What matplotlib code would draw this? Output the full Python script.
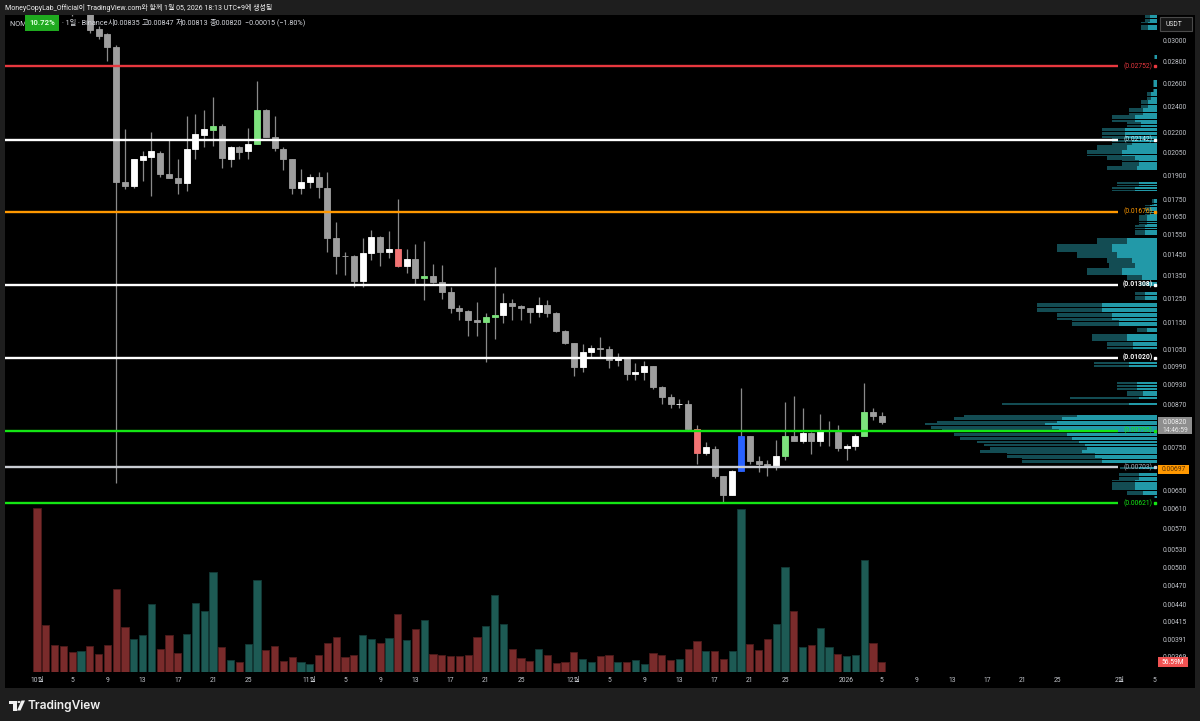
import numpy as np
import pandas as pd
import matplotlib
matplotlib.use('Agg')
import matplotlib.pyplot as plt
from matplotlib.patches import Rectangle, Polygon, Circle
from matplotlib.ticker import NullLocator

plt.rcParams['font.family'] = ['Roboto', 'Noto Sans CJK KR', 'DejaVu Sans']

# ---------------- data ----------------
start = pd.Timestamp('2025-10-01')
dates = pd.date_range(start, '2026-01-05', freq='D')

opens = [0.0520, 0.0440, 0.0412, 0.0392, 0.0375, 0.0340, 0.0352, 0.03125, 0.03069, 0.02942,
         0.01858, 0.0183, 0.0200, 0.0202, 0.0205, 0.01905, 0.0188, 0.0185, 0.0208, 0.02178,
         0.02216, 0.02246, 0.0201, 0.02093, 0.0206, 0.0211, 0.0237, 0.02166, 0.0208, 0.0201,
         0.0182,
         0.01854, 0.01885, 0.0182, 0.01535, 0.01444, 0.01444, 0.01325, 0.01456, 0.0154, 0.01464,
         0.01476, 0.01396, 0.01426, 0.0134, 0.01347, 0.01321, 0.01277, 0.0121, 0.01197, 0.0116,
         0.01151, 0.01173, 0.01178, 0.0123, 0.01217, 0.01207, 0.01191, 0.01221, 0.01187, 0.01118,
         0.01071, 0.00989, 0.01041, 0.01053, 0.01052, 0.01012, 0.01018, 0.00965, 0.00972, 0.00992,
         0.00924, 0.00893, 0.00871, 0.00872, 0.0080, 0.00737, 0.00747, 0.00681, 0.00639, 0.00694,
         0.00781, 0.00718, 0.0071, 0.00704, 0.0073, 0.00781, 0.00769, 0.0079, 0.00768, 0.00794,
         0.00793,
         0.00749, 0.00756, 0.00781, 0.00849, 0.00835]
highs = [0.0545, 0.0462, 0.0428, 0.0405, 0.0388, 0.0372, 0.0360, 0.0316, 0.0308, 0.0296,
         0.0222, 0.0201, 0.0206, 0.0220, 0.0206, 0.0214, 0.0201, 0.0232, 0.0234, 0.02372,
         0.02479, 0.02261, 0.0210, 0.0210, 0.02231, 0.02621, 0.0238, 0.02324, 0.0209, 0.0201,
         0.0194,
         0.01907, 0.0192, 0.0192, 0.01618, 0.01464, 0.01447, 0.01532, 0.01576, 0.01545, 0.01571,
         0.0175, 0.01477, 0.01503, 0.01518, 0.01404, 0.0140, 0.01299, 0.01221, 0.0120, 0.01234,
         0.01187, 0.01388, 0.01273, 0.01245, 0.01219, 0.0121, 0.01256, 0.01242, 0.0119, 0.0112,
         0.01074, 0.01069, 0.01065, 0.01094, 0.01063, 0.01036, 0.01022, 0.01001, 0.01009, 0.00993,
         0.00925, 0.00902, 0.00885, 0.00882, 0.00811, 0.00765, 0.00755, 0.00682, 0.00695, 0.00919,
         0.00782, 0.0073, 0.00719, 0.00771, 0.00876, 0.00896, 0.00859, 0.00791, 0.00841, 0.00823,
         0.00811,
         0.0076, 0.00787, 0.00935, 0.00858, 0.00847]
lows = [0.0430, 0.0405, 0.0385, 0.0368, 0.0327, 0.0333, 0.0308, 0.0302, 0.02803, 0.00666,
        0.0181, 0.0182, 0.0186, 0.0177, 0.0189, 0.0188, 0.0178, 0.0180, 0.0201, 0.02093,
        0.0210, 0.01949, 0.01955, 0.0201, 0.0201, 0.0211, 0.0216, 0.02063, 0.01933, 0.0178,
        0.0178,
        0.0182, 0.01757, 0.01464, 0.01355, 0.01353, 0.01299, 0.0130, 0.01423, 0.01396, 0.01434,
        0.0139, 0.01363, 0.01307, 0.01242, 0.01314, 0.01245, 0.01187, 0.0116, 0.01098, 0.01098,
        0.01006, 0.01086, 0.01147, 0.0116, 0.0116, 0.01147, 0.01173, 0.01171, 0.01113, 0.0107,
        0.00959, 0.00971, 0.0102, 0.01024, 0.00984, 0.00992, 0.00946, 0.00945, 0.00945, 0.00917,
        0.00871, 0.00859, 0.00859, 0.00798, 0.0071, 0.00732, 0.00677, 0.00621, 0.00638, 0.00693,
        0.00709, 0.00692, 0.00682, 0.00696, 0.0072, 0.00767, 0.00763, 0.00735, 0.00755, 0.00755,
        0.00742,
        0.0072, 0.00746, 0.0078, 0.00826, 0.00813]
closes = [0.0440, 0.0412, 0.0392, 0.0375, 0.0340, 0.0352, 0.03115, 0.03055, 0.02936, 0.01854,
          0.0183, 0.0201, 0.0203, 0.0206, 0.01905, 0.01883, 0.01852, 0.0208, 0.02183, 0.02223,
          0.02246, 0.02012, 0.02093, 0.02058, 0.0211, 0.02372, 0.02166, 0.02082, 0.0201, 0.01819,
          0.01854,
          0.01885, 0.01822, 0.01535, 0.01444, 0.01442, 0.01326, 0.01456, 0.01541, 0.01464, 0.01476,
          0.01396, 0.01426, 0.0134, 0.01347, 0.01321, 0.01277, 0.0121, 0.01197, 0.0116, 0.01151,
          0.01173, 0.01178, 0.0123, 0.01217, 0.01207, 0.01191, 0.01221, 0.01187, 0.01118, 0.01071,
          0.00989, 0.01041, 0.01053, 0.01052, 0.01012, 0.01018, 0.00965, 0.00973, 0.00992, 0.00924,
          0.00893, 0.00871, 0.00872, 0.0080, 0.00737, 0.00752, 0.00682, 0.00639, 0.00694, 0.00781,
          0.00718, 0.0071, 0.00704, 0.0073, 0.00781, 0.00769, 0.0079, 0.00768, 0.00795, 0.00796,
          0.00749,
          0.00756, 0.00781, 0.00849, 0.00835, 0.0082]
volumes_m = [928, 264, 155, 149, 111, 121, 149, 102, 155, 470, 256, 187, 207, 385, 130, 211,
             107, 215, 389, 347, 566, 140, 68, 58, 160, 521, 124, 149, 64, 87, 55,
             43, 98, 164, 200, 83, 96, 207, 189, 164, 192, 326, 181, 241, 294, 104, 98, 89,
             92, 98, 196, 262, 438, 270, 130, 79, 64, 132, 96, 49, 58,
             113, 75, 58, 92, 98, 58, 55, 70, 47, 106, 96, 70, 75, 130, 177, 121, 117, 75,
             117, 922, 160, 124, 187, 273, 594, 345, 140, 153, 251, 143, 102,
             89, 96, 632, 166, 56.59]

# highlighted (signal) candles
signal_days = ['2025-10-21', '2025-10-26', '2025-11-11', '2025-11-14', '2025-11-21',
               '2025-11-22', '2025-12-15', '2025-12-20', '2025-12-25', '2026-01-03']
signal_kind = ['buy', 'buy', 'sell', 'buy', 'buy', 'buy', 'sell', 'blue', 'buy', 'buy']

# horizontal levels
levels = [0.02752, 0.02142, 0.01676, 0.01308, 0.01020, 0.00795, 0.00703, 0.00621]
level_line_colors = ['#e8383f', '#ffffff', '#ff9800', '#ffffff', '#ffffff', '#14e614', '#c9ccd2', '#14e614']
level_text_colors = ['#e8383f', '#bfe9f0', '#ff9800', '#ffffff', '#ffffff', '#14e614', '#a9b2bd', '#14e614']

# volume profile (price bands, relative volume)
prof_hi = [0.0328, 0.0320, 0.0286, 0.02627, 0.02522, 0.02454, 0.02388, 0.02332, 0.02277, 0.02239,
           0.02156, 0.02105, 0.0207, 0.02029, 0.02003, 0.01962, 0.01856, 0.01825, 0.01757, 0.01716,
           0.01659, 0.01603, 0.01534, 0.01503, 0.01462, 0.01432, 0.01408, 0.01384, 0.01352, 0.0132,
           0.01276, 0.01229, 0.01192, 0.0116, 0.01135, 0.01112, 0.01079, 0.01008, 0.00939, 0.00913,
           0.00892, 0.00874, 0.00842, 0.00834, 0.00825, 0.00818, 0.00811, 0.00801, 0.00792, 0.00781,
           0.00771, 0.00762, 0.00755, 0.00746, 0.00737, 0.00725, 0.00705, 0.0069, 0.00672, 0.0065,
           0.00637]
prof_lo = [0.0320, 0.03115, 0.0282, 0.02522, 0.02454, 0.02388, 0.02332, 0.02277, 0.02239, 0.02156,
           0.02105, 0.0207, 0.02029, 0.02003, 0.01962, 0.01933, 0.01831, 0.0180, 0.01716, 0.01659,
           0.01603, 0.0155, 0.01503, 0.01462, 0.01432, 0.01408, 0.01384, 0.01352, 0.01329, 0.01302,
           0.01242, 0.01192, 0.0116, 0.01135, 0.01112, 0.01079, 0.0105, 0.00988, 0.00913, 0.00895,
           0.00886, 0.00868, 0.00834, 0.00825, 0.00818, 0.00811, 0.00801, 0.00792, 0.00781, 0.00771,
           0.00762, 0.00755, 0.00746, 0.00737, 0.00725, 0.00713, 0.00698, 0.00672, 0.0065, 0.00639,
           0.00632]
prof_total = [12, 16, 3, 4, 10, 16, 28, 45, 30, 55, 45, 60, 70, 50, 35, 50, 40, 45, 5, 12,
              18, 22, 60, 100, 80, 50, 48, 70, 30, 17, 22, 120, 100, 85, 20, 65, 50, 63, 40, 30,
              87, 155, 193, 203, 220, 232, 226, 215, 203, 197, 180, 173, 167, 177, 150, 135,
              37, 38, 45, 30, 3]
prof_up = [7, 9, 2, 3, 6, 9, 14, 22, 16, 32, 25, 30, 35, 22, 18, 20, 18, 22, 3, 7,
           10, 12, 30, 45, 40, 25, 22, 35, 15, 9, 12, 55, 45, 38, 10, 30, 24, 28, 20, 14,
           18, 28, 80, 95, 100, 112, 105, 98, 90, 85, 78, 72, 70, 75, 62, 55, 18, 18, 22, 14, 2]

ytick_vals = [0.03, 0.028, 0.026, 0.024, 0.022, 0.0205, 0.019, 0.0175, 0.0165, 0.0155, 0.0145,
              0.0135, 0.0125, 0.0115, 0.0105, 0.0099, 0.0093, 0.0087, 0.0075, 0.0065, 0.0061,
              0.0057, 0.0053, 0.0050, 0.0047, 0.0044, 0.00415, 0.00391, 0.00369]
xtick_dates = ['2025-10-01', '2025-10-05', '2025-10-09', '2025-10-13', '2025-10-17', '2025-10-21',
               '2025-10-25', '2025-11-01', '2025-11-05', '2025-11-09', '2025-11-13', '2025-11-17',
               '2025-11-21', '2025-11-25', '2025-12-01', '2025-12-05', '2025-12-09', '2025-12-13',
               '2025-12-17', '2025-12-21', '2025-12-25', '2026-01-01', '2026-01-05', '2026-01-09',
               '2026-01-13', '2026-01-17', '2026-01-21', '2026-01-25', '2026-02-01', '2026-02-05']
xtick_labels = ['10월', '5', '9', '13', '17', '21', '25', '11월', '5', '9', '13', '17', '21', '25',
                '12월', '5', '9', '13', '17', '21', '25', '2026', '5', '9', '13', '17', '21', '25',
                '2월', '5']

last_price = 0.00820
marker_price = 0.00697
last_volume = 56.59

# ---------------- figure ----------------
W, H = 1200, 721
fig = plt.figure(figsize=(W / 100, H / 100), dpi=100, facecolor='#1e1e1e')


def fx(px):
    return px / W


def fy(py):
    return 1 - py / H


def fig_rect(x0, y0, x1, y1, **kw):
    r = Rectangle((fx(x0), fy(y1)), fx(x1) - fx(x0), fy(y0) - fy(y1),
                  transform=fig.transFigure, **kw)
    fig.add_artist(r)
    return r


fig_rect(5, 15, 1195, 688, facecolor='black', edgecolor='none', zorder=-10)

AX_L, AX_R, AX_T, AX_B = 5, 1157, 15, 672
PX_DAY = 8.8
X0_PX = 37
pos = [fx(AX_L), fy(AX_B), (AX_R - AX_L) / W, (AX_B - AX_T) / H]
xlim = ((AX_L - X0_PX) / PX_DAY, (AX_R - X0_PX) / PX_DAY)
ylim = (0.003497, 0.032778)

x = np.array([(d - start).days for d in dates])
o = np.array(opens); h = np.array(highs); l = np.array(lows); c = np.array(closes)
up = c >= o

# volume
ax_vol = fig.add_axes(pos, facecolor='black')
vol_colors = np.where(up, '#1d5a54', '#7a2b2b')
vol_edges = np.where(up, '#123a36', '#4d1a1a')
ax_vol.bar(x, volumes_m, width=0.84, color=vol_colors, edgecolor=vol_edges, linewidth=0.6)
ax_vol.set_xlim(*xlim)
ax_vol.set_ylim(0, 3718)
ax_vol.axis('off')

# volume profile
PROF_L = 900
ax_prof = fig.add_axes([fx(PROF_L), fy(AX_B), (AX_R - PROF_L) / W, (AX_B - AX_T) / H],
                       facecolor='none')
ax_prof.set_yscale('log')
ax_prof.set_ylim(*ylim)
ax_prof.set_xlim(AX_R - PROF_L, 0)
rows_lo, rows_h, rows_tot, rows_up = [], [], [], []
for hi_, lo_, tot, upv in zip(prof_hi, prof_lo, prof_total, prof_up):
    e = lo_
    while e < hi_ - 1e-9:
        top = min(e + 0.0001, hi_)
        rows_lo.append(e)
        rows_h.append((top - e) * 0.8)
        rows_tot.append(tot)
        rows_up.append(upv)
        e = top
ax_prof.barh(rows_lo, rows_tot, height=rows_h, align='edge', color='#134c53', linewidth=0)
ax_prof.barh(rows_lo, rows_up, height=rows_h, align='edge', color='#2299a8', linewidth=0)
ax_prof.axis('off')

# main price axes
ax = fig.add_axes(pos, facecolor='none')
ax.set_yscale('log')
ax.set_xlim(*xlim)
ax.set_ylim(*ylim)

kind_colors = {'buy': '#7de37d', 'sell': '#f27474', 'blue': '#2962ff'}
body_colors = np.where(up, '#ffffff', '#9e9e9e').astype(object)
for d, k in zip(signal_days, signal_kind):
    idx = (pd.Timestamp(d) - start).days
    body_colors[idx] = kind_colors[k]

ax.vlines(x, l, h, colors='#8a8a8a', linewidth=0.9, zorder=2)
bottoms = np.minimum(o, c)
heights = np.abs(c - o)
ax.bar(x, heights, bottom=bottoms, width=0.68, color=list(body_colors),
       edgecolor=list(body_colors), linewidth=0.6, zorder=3)

# horizontal levels
LINE_END = (1118 - X0_PX) / PX_DAY
LABEL_X = (1153 - X0_PX) / PX_DAY
DOT_X = (1155.5 - X0_PX) / PX_DAY
ax.hlines(levels, xlim[0], LINE_END, colors=level_line_colors, linewidth=1.7, zorder=4)
for lv, tc, lc in zip(levels, level_text_colors, level_line_colors):
    ax.text(LABEL_X, lv, f'({lv:.5f})', ha='right', va='center', color=tc,
            fontsize=4.9, zorder=5, fontweight='bold' if tc == '#ffffff' else 'normal')
    ax.plot([DOT_X], [lv], marker='s', ms=1.5, color=lc, zorder=5, clip_on=False)

# axes ticks
for sp in ax.spines.values():
    sp.set_visible(False)
ax.yaxis.tick_right()
ax.set_yticks(ytick_vals)
ax.set_yticklabels([f'{v:.5f}' for v in ytick_vals])
ax.yaxis.set_minor_locator(NullLocator())
ax.tick_params(axis='y', length=0, pad=4.2, labelsize=4.9, labelcolor='#c3c6cc')
xt = [(pd.Timestamp(d) - start).days for d in xtick_dates]
ax.set_xticks(xt)
ax.set_xticklabels(xtick_labels)
ax.xaxis.set_minor_locator(NullLocator())
ax.tick_params(axis='x', length=0, pad=3.6, labelsize=4.9, labelcolor='#c3c6cc')

# right-axis label boxes
fig.canvas.draw()


def data_to_py(axis, val):
    return H - axis.transData.transform((0, val))[1]


py = data_to_py(ax, last_price)
fig_rect(1158, py - 4.5, 1192, py + 12.5, facecolor='#8e8e8e', edgecolor='none', zorder=6)
fig.text(fx(1175), fy(py + 0.3), f'{last_price:.5f}', ha='center', va='center', fontsize=4.9,
         color='#f2f2f2', zorder=7)
fig.text(fx(1175), fy(py + 8.3), '14:46:59', ha='center', va='center', fontsize=4.9,
         color='#e6e6e6', zorder=7)

py = data_to_py(ax, marker_price)
fig_rect(1158, py - 4.8, 1189, py + 4.8, facecolor='#ff9800', edgecolor='none', zorder=6)
fig.text(fx(1173.5), fy(py), f'{marker_price:.5f}', ha='center', va='center', fontsize=4.9,
         color='#5a3000', zorder=7)

py = data_to_py(ax_vol, last_volume)
fig_rect(1158, py - 4.6, 1188, py + 4.6, facecolor='#f05252', edgecolor='none', zorder=6)
fig.text(fx(1173), fy(py), f'{last_volume:.2f}M', ha='center', va='center', fontsize=4.9,
         color='#ffffff', zorder=7)

# USDT box
fig_rect(1159.5, 17, 1192, 31, facecolor='#161616', edgecolor='#4a4a4a', linewidth=0.8, zorder=6)
fig.text(fx(1166), fy(24), 'USDT', ha='left', va='center', fontsize=4.9, color='#e8e8e8', zorder=7)

# header
fig.text(fx(5), fy(8), 'MoneyCopyLab_Official이 TradingView.com와 함께 1월 05, 2026 18:13 UTC+9에 생성됨',
         ha='left', va='center', fontsize=5.0, color='#f0f0f0')
leg_color = '#d6d8de'
fig.text(fx(10), fy(23.5), 'NOM /', ha='left', va='center', fontsize=5.2, color=leg_color, zorder=5)
fig.text(fx(62), fy(23.5), '· 1일 · Binance', ha='left', va='center', fontsize=5.2,
         color=leg_color, zorder=5)
for px_, s in [(108, '시0.00835'), (142, '고0.00847'), (176, '저0.00813'), (210, '종0.00820'),
               (245, '−0.00015 (−1.80%)')]:
    fig.text(fx(px_), fy(23.5), s, ha='left', va='center', fontsize=5.2, color=leg_color, zorder=5)
fig_rect(25, 15, 59, 30.5, facecolor='#1faa1f', edgecolor='none', zorder=8)
fig.text(fx(42), fy(22.8), '10.72%', ha='center', va='center', fontsize=5.6, color='#d8ffd8',
         fontweight='bold', zorder=9)

# footer logo
lc = '#f0f0f0'
fig_rect(9, 700.5, 16.5, 703.5, facecolor=lc, edgecolor='none')
fig_rect(13, 700.5, 16.5, 710.5, facecolor=lc, edgecolor='none')
fig.add_artist(Circle((fx(19), fy(702)), 1.6 / W, transform=fig.transFigure, facecolor=lc,
                      edgecolor='none'))
fig.add_artist(Polygon([(fx(21.5), fy(700.5)), (fx(25), fy(700.5)), (fx(20.5), fy(710.5)),
                        (fx(17), fy(710.5))], closed=True, transform=fig.transFigure,
                       facecolor=lc, edgecolor='none'))
fig.text(fx(27), fy(705.5), 'TradingView', ha='left', va='center', fontsize=8.6,
         color='#f0f0f0', fontweight='semibold', family=['Inter', 'DejaVu Sans'])

fig.savefig('out.png', dpi=100, facecolor=fig.get_facecolor())
